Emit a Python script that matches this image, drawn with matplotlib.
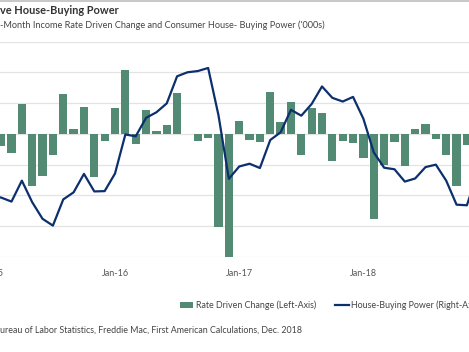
import numpy as np
import matplotlib
matplotlib.use('Agg')
import matplotlib.pyplot as plt
from matplotlib.lines import Line2D

plt.rcParams['font.family'] = ['Lato', 'DejaVu Sans']

# months Jan-15 .. Dec-18 (index 0 = Jan-15)
month_labels = ['Jan-15', 'Jan-16', 'Jan-17', 'Jan-18']
month_label_idx = [0, 12, 24, 36]

# rate driven change ('000s), left axis
rate_change = [-1.5, -2.05, -3.05, 4.85, -8.5, -6.85, -3.4, 6.55, 0.8, 4.35, -6.95, -1.1,
               4.25, 10.3, -1.6, 3.95, 0.45, 1.45, 6.65, 0.0, -1.15, -0.6, -15.2, -20.0,
               2.15, -0.95, -1.4, 6.85, 1.85, 5.15, -3.45, 4.2, 3.35, -4.45, -1.1, -1.55,
               -3.9, -13.8, -5.0, -1.3, -5.2, 0.75, 1.6, -0.9, -3.45, -8.4, -1.75, 1.0]

# house-buying power ('000s), right axis
buying_power = [380.0, 379.3, 378.0, 384.8, 377.8, 372.4, 370.2, 378.7, 381.0, 387.0, 381.3, 381.4,
                387.1, 399.8, 399.2, 405.2, 407.0, 409.9, 418.7, 420.0, 420.4, 421.4, 406.0, 385.4,
                389.4, 390.3, 388.9, 398.0, 400.5, 407.8, 405.9, 409.7, 415.4, 411.7, 410.5, 412.0,
                404.9, 394.0, 389.0, 388.5, 384.5, 385.5, 389.2, 390.0, 384.8, 377.0, 376.8, 387.0]

x = np.arange(len(rate_change))

W, H = 469, 352
fig = plt.figure(figsize=(W / 100, H / 100), dpi=100)

# axes deliberately wider than the canvas (the reference is a cropped view)
L, R, top_px, bot_px = -30, 500, 41.5, 257
ax = fig.add_axes([L / W, 1 - bot_px / H, (R - L) / W, (bot_px - top_px) / H])
px_per_month = 10.35
ax.set_xlim((L - 115) / px_per_month + 12, (R - 115) / px_per_month + 12)
ax.set_ylim(-20, 15)
ax.set_yticks(np.arange(-20, 16, 5))
ax.yaxis.grid(True, color='#e3e3e3', lw=0.9)
ax.set_axisbelow(True)
ax.bar(x, rate_change, width=0.8, color='#528a74', label='Rate Driven Change (Left-Axis)', zorder=2)

ax2 = ax.twinx()
ax2.set_ylim(360, 430)
ax2.plot(x, buying_power, color='#0c2f6e', lw=1.6, label='House-Buying Power (Right-Axis)', zorder=3)

for a in (ax, ax2):
    for s in a.spines.values():
        s.set_visible(False)
    a.tick_params(left=False, right=False, labelleft=False, labelright=False, bottom=False)
ax2.set_yticks([])

ax.set_xticks(month_label_idx)
ax.set_xticklabels(month_labels, fontsize=6.5, color='#555555')
ax.tick_params(axis='x', pad=5)

# header / footer
fig.add_artist(Line2D([0, 1], [1 - 0.6 / H, 1 - 0.6 / H], color='#bdbdbd', lw=1.2))
fig.text(0, 1 - 11 / H, 've House-Buying Power', fontsize=7.9, fontweight='bold',
         color='#333333', va='center', ha='left')
fig.text(0, 1 - 25.5 / H, "-Month Income Rate Driven Change and Consumer House- Buying Power ('000s)",
         fontsize=6.55, color='#444444', va='center', ha='left')
fig.text(0, 1 - 330 / H, 'ureau of Labor Statistics, Freddie Mac, First American Calculations, Dec. 2018',
         fontsize=6.4, color='#444444', va='center', ha='left')

h1, l1 = ax.get_legend_handles_labels()
h2, l2 = ax2.get_legend_handles_labels()
fig.legend(h1 + h2, l1 + l2, loc='center left', bbox_to_anchor=(180 / W, 1 - 305 / H),
           ncol=2, frameon=False, fontsize=6.4, handlelength=1.5, handletextpad=0.25,
           columnspacing=2.2, borderaxespad=0, borderpad=0, labelcolor='#444444')

fig.savefig('out.png', dpi=100)
